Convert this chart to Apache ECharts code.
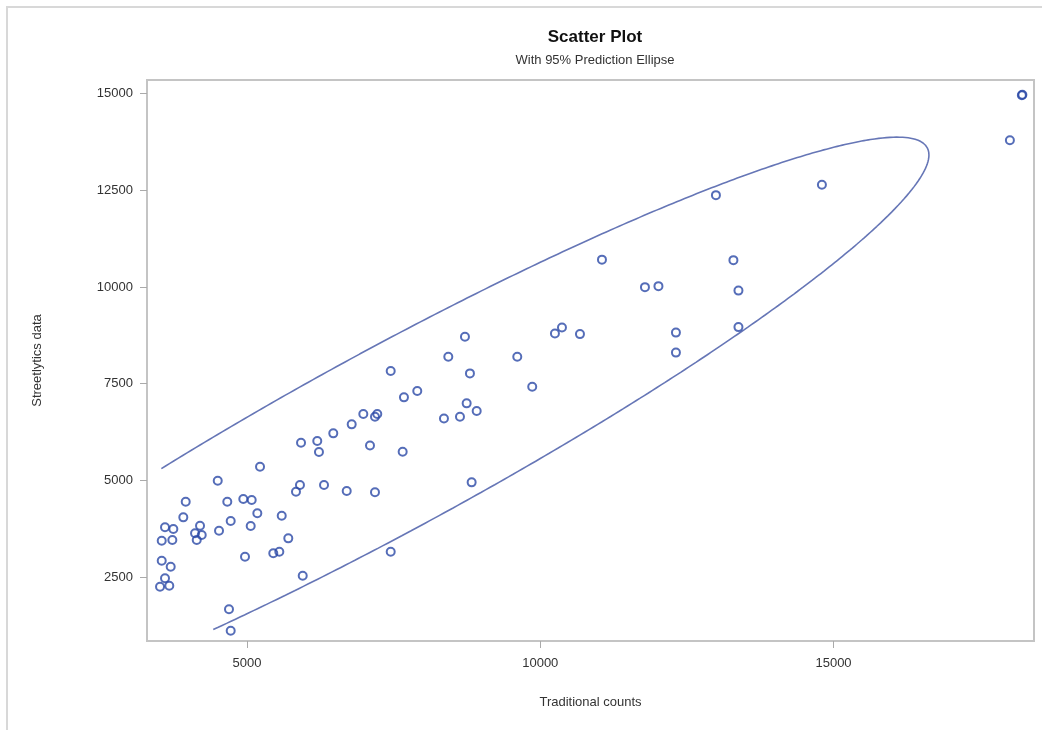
<!DOCTYPE html>
<html>
<head>
<meta charset="utf-8">
<script src="https://cdn.jsdelivr.net/npm/echarts@6/dist/echarts.min.js"></script>
<style>
html,body{margin:0;padding:0;background:#fff;}
#c{width:1042px;height:730px;}
</style>
</head>
<body>
<div id="c"></div>
<script>
// Traditional counts (x) and Streetlytics data (y)
var traditional = [18211,18220,18007,14802,12995,11052,13293,11785,12015,13379,13379,12313,12313,10370,10250,10677,8716,8432,9608,8801,9863,7450,7903,7676,8745,8916,8631,8358,8830,6983,7221,7182,6785,6471,6198,5921,6227,7097,7654,5222,4501,3955,4664,4937,5080,5903,5835,6313,6700,7182,3914,5176,5592,3602,3744,4199,4114,4228,4143,4523,4722,5063,3546,3727,5704,4966,5448,5551,3546,3699,5950,3602,3517,3675,7450,4693,4722];
var streetlytics = [14961,14972,13798,12647,12376,10708,10695,9997,10023,9907,8963,8821,8304,8955,8800,8782,8712,8195,8195,7766,7420,7826,7309,7146,6991,6792,6644,6598,4948,6714,6714,6644,6448,6215,6016,5972,5732,5900,5739,5352,4990,4447,4447,4517,4491,4878,4705,4878,4723,4690,4043,4147,4085,3785,3741,3826,3630,3586,3457,3697,3948,3819,3438,3457,3500,3025,3113,3154,2921,2766,2534,2466,2249,2275,3154,1665,1112];
var xTicks = [5000, 10000, 15000];
var yTicks = [2500, 5000, 7500, 10000, 12500, 15000];

var pts = traditional.map(function(v,i){ return [v, streetlytics[i]]; });

// 95% prediction ellipse from sample mean and covariance
var n = pts.length, mx = 0, my = 0;
pts.forEach(function(p){ mx += p[0]; my += p[1]; });
mx /= n; my /= n;
var sxx = 0, syy = 0, sxy = 0;
pts.forEach(function(p){ var dx = p[0]-mx, dy = p[1]-my; sxx += dx*dx; syy += dy*dy; sxy += dx*dy; });
sxx /= (n-1); syy /= (n-1); sxy /= (n-1);
var d2 = n - 2;
var F = (d2/2) * (Math.pow(0.05, -2/d2) - 1);
var c = Math.sqrt(2*(n-1)/(n-2) * (1 + 1/n) * F);
var L11 = Math.sqrt(sxx), L21 = sxy / L11, L22 = Math.sqrt(syy - L21*L21);
var minX = Math.min.apply(null, traditional), minY = Math.min.apply(null, streetlytics);
var ell = [];
for (var k = 0; k <= 720; k++) {
  var t = k / 720 * 2 * Math.PI;
  var ex = mx + c * L11 * Math.cos(t);
  var ey = my + c * (L21 * Math.cos(t) + L22 * Math.sin(t));
  ell.push(ex >= minX && ey >= minY ? [ex, ey] : [null, null]);
}

var chart = echarts.init(document.getElementById('c'), null, {renderer: 'canvas'});
var axisText = {color: '#333', fontFamily: 'Liberation Sans, Arial, sans-serif', fontSize: 13};
chart.setOption({
  animation: false,
  backgroundColor: '#fff',
  title: {
    text: 'Scatter Plot',
    subtext: 'With 95% Prediction Ellipse',
    left: 590, top: 24, textAlign: 'center',
    itemGap: 8,
    textStyle: {fontFamily: 'Liberation Sans, Arial, sans-serif', fontSize: 17, fontWeight: 'bold', color: '#111'},
    subtextStyle: {fontFamily: 'Liberation Sans, Arial, sans-serif', fontSize: 13, color: '#333'}
  },
  graphic: [
    {type: 'line', shape: {x1: 6, y1: 7, x2: 1042, y2: 7}, style: {stroke: '#d8d8d8', lineWidth: 2}},
    {type: 'line', shape: {x1: 7, y1: 6, x2: 7, y2: 730}, style: {stroke: '#d8d8d8', lineWidth: 2}}
  ],
  grid: {left: 147, right: 8, top: 80, bottom: 89, show: true, borderColor: '#c4c4c4', borderWidth: 2, backgroundColor: '#fff'},
  xAxis: {
    type: 'value', min: 3295, max: 18418,
    name: 'Traditional counts', nameLocation: 'middle', nameGap: 55,
    nameTextStyle: axisText,
    axisLine: {show: false},
    axisTick: {show: true, length: 7, customValues: xTicks, lineStyle: {color: '#aaa', width: 1}},
    axisLabel: Object.assign({margin: 16, customValues: xTicks, formatter: function(v){ return String(v); }}, axisText),
    splitLine: {show: false}
  },
  yAxis: {
    type: 'value', min: 845, max: 15354,
    name: 'Streetlytics data', nameLocation: 'middle', nameGap: 103, nameRotate: 90,
    nameTextStyle: axisText,
    axisLine: {show: false},
    axisTick: {show: true, length: 7, customValues: yTicks, lineStyle: {color: '#aaa', width: 1}},
    axisLabel: Object.assign({margin: 14, customValues: yTicks, formatter: function(v){ return String(v); }}, axisText),
    splitLine: {show: false}
  },
  series: [
    {
      type: 'line', data: ell, showSymbol: false, connectNulls: false, silent: true,
      lineStyle: {color: '#6676b6', width: 1.6}, z: 2
    },
    {
      type: 'scatter', data: pts, symbol: 'circle', symbolSize: 8,
      itemStyle: {color: 'rgba(255,255,255,0)', borderColor: '#2a48a6', borderWidth: 2}, z: 3
    }
  ]
});
</script>
</body>
</html>
